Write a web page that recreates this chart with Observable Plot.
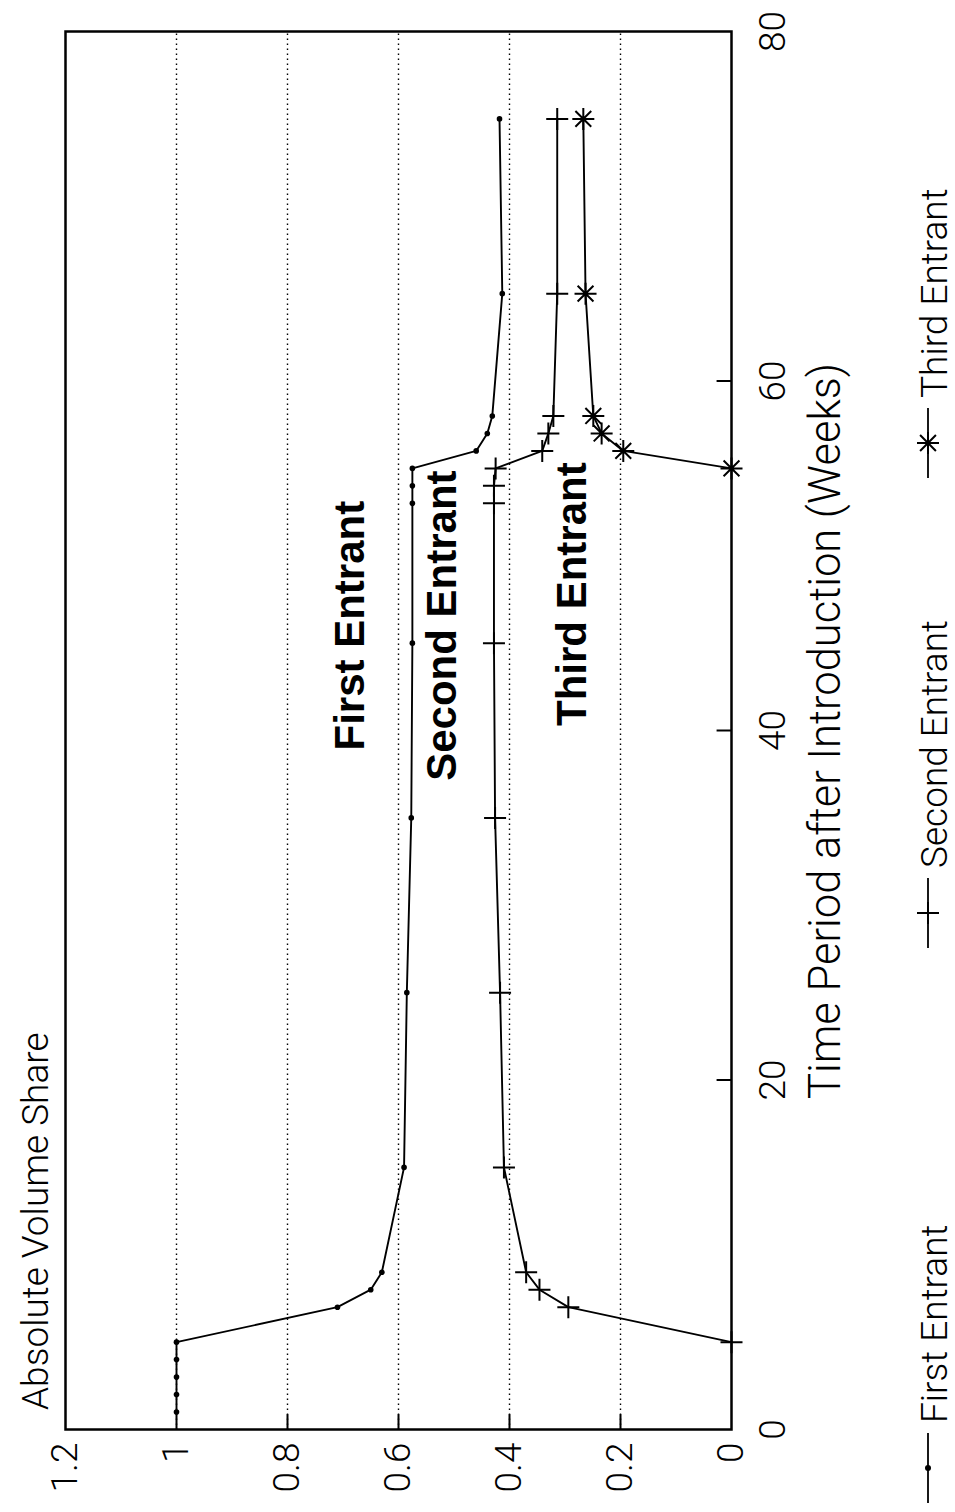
<!DOCTYPE html>
<html>
<head>
<meta charset="utf-8">
<script src="https://cdn.jsdelivr.net/npm/d3@7"></script>
<script src="https://cdn.jsdelivr.net/npm/@observablehq/plot@0.6"></script>
<style>
  html, body { margin: 0; padding: 0; width: 955px; height: 1512px; overflow: hidden; background: #fff; }
  #rot { position: absolute; left: 0; top: 1512px; width: 1512px; height: 955px;
         transform-origin: 0 0; transform: rotate(-90deg);
         font-family: Roboto, "Liberation Sans", sans-serif; font-weight: 300; color: #000; }
  .abs { position: absolute; white-space: nowrap; }
</style>
</head>
<body>
<div id="rot"></div>
<script>
// ---------------- data ----------------
const seriesNames = ["First Entrant", "Second Entrant", "Third Entrant"];

const weeksFirst  = [1, 2, 3, 4, 5, 7, 8, 9, 15, 25, 35, 45, 53, 54, 55, 56, 57, 58, 65, 75];
const shareFirst  = [1, 1, 1, 1, 1, 0.71, 0.65, 0.63, 0.59, 0.585, 0.577, 0.575, 0.575, 0.575, 0.575, 0.46, 0.44, 0.431, 0.413, 0.418];

const weeksSecond = [5, 7, 8, 9, 15, 25, 35, 45, 53, 54, 55, 56, 57, 58, 65, 75];
const shareSecond = [0, 0.294, 0.346, 0.37, 0.41, 0.417, 0.426, 0.428, 0.428, 0.428, 0.425, 0.341, 0.33, 0.321, 0.314, 0.314];

const weeksThird  = [55, 56, 57, 58, 65, 75];
const shareThird  = [0, 0.195, 0.234, 0.249, 0.263, 0.267];

const timeTicks  = [0, 20, 40, 60, 80];
const shareTicks = [0, 0.2, 0.4, 0.6, 0.8, 1, 1.2];
const gridShares = [0.2, 0.4, 0.6, 0.8, 1];

// in-chart labels (data coordinates)
const annotationWeeks  = [46, 46, 47.8];
const annotationShares = [0.686, 0.521, 0.286];

const titleText = "Absolute Volume Share";
const xLabelText = "Time Period after Introduction (Weeks)";

// ---------------- build ----------------
const toRows = (name, ws, ss) => ws.map((w, i) => ({series: name, week: w, share: ss[i]}));
const rowsFirst = toRows(seriesNames[0], weeksFirst, shareFirst);
const rowsSecond = toRows(seriesNames[1], weeksSecond, shareSecond);
const rowsThird = toRows(seriesNames[2], weeksThird, shareThird);
const allRows = [...rowsFirst, ...rowsSecond, ...rowsThird];
const annotations = seriesNames.map((s, i) => ({label: s, week: annotationWeeks[i], share: annotationShares[i]}));

// custom marker symbols
const plusSymbol = {
  draw(ctx, size) {
    const r = Math.sqrt(size / Math.PI);
    ctx.moveTo(-r, 0); ctx.lineTo(r, 0);
    ctx.moveTo(0, -r); ctx.lineTo(0, r);
  }
};
const starSymbol = {
  draw(ctx, size) {
    const r = Math.sqrt(size / Math.PI);
    const d = r * 0.72;
    ctx.moveTo(0, -r); ctx.lineTo(0, r);
    ctx.moveTo(-r, 0); ctx.lineTo(r, 0);
    ctx.moveTo(-d, -d); ctx.lineTo(d, d);
    ctx.moveTo(-d, d); ctx.lineTo(d, -d);
  }
};

const FONT = "Roboto, 'Liberation Sans', sans-serif";

const chart = Plot.plot({
  width: 1512,
  height: 790,
  marginLeft: 82,
  marginRight: 32,
  marginTop: 25,
  marginBottom: 99,
  style: {fontFamily: FONT, fontSize: "37px", fontWeight: 300, color: "#000", background: "transparent", overflow: "visible"},
  x: {domain: [0, 80], ticks: timeTicks, tickSize: 0, tickPadding: 27, label: null, tickFormat: d => String(d)},
  y: {domain: [0, 1.2], ticks: shareTicks, tickSize: 0, tickPadding: 13, label: null, tickFormat: d => String(d)},
  marks: [
    Plot.ruleY(gridShares, {stroke: "#000", strokeWidth: 1.4, strokeDasharray: "1.5,3.5"}),
    Plot.ruleX(timeTicks.slice(1, -1), {x: d => d, y1: 0, y2: 0.026, stroke: "#000", strokeWidth: 2}),
    Plot.ruleY(gridShares, {y: d => d, x1: 0, x2: 0.9, stroke: "#000", strokeWidth: 2}),
    Plot.line(allRows, {x: "week", y: "share", z: "series", stroke: "#000", strokeWidth: 1.9}),
    Plot.dot(rowsFirst, {x: "week", y: "share", r: 2.8, fill: "#000", stroke: "none"}),
    Plot.dot(rowsSecond, {x: "week", y: "share", symbol: plusSymbol, r: 11, fill: "none", stroke: "#000", strokeWidth: 2}),
    Plot.dot(rowsThird, {x: "week", y: "share", symbol: starSymbol, r: 11, fill: "none", stroke: "#000", strokeWidth: 2}),
    Plot.text(annotations, {x: "week", y: "share", text: "label", fontSize: 42, fontWeight: "bold",
      fontFamily: "'Liberation Sans', Arial, sans-serif", fill: "#000", textAnchor: "middle"}),
    Plot.frame({stroke: "#000", strokeWidth: 2.5})
  ]
});

const rot = document.getElementById("rot");

chart.style.position = "absolute";
chart.style.left = "0px";
chart.style.top = "40px";
rot.appendChild(chart);

const title = document.createElement("div");
title.className = "abs";
title.textContent = titleText;
Object.assign(title.style, {left: "102px", top: "17px", fontSize: "37px", lineHeight: "37px"});
rot.appendChild(title);

const xl = document.createElement("div");
xl.className = "abs";
xl.textContent = xLabelText;
Object.assign(xl.style, {left: "82px", width: "1398px", textAlign: "center", top: "804px", fontSize: "43.5px", lineHeight: "43.5px"});
rot.appendChild(xl);

// legend (line + marker + text)
const legendStarts = [7, 562, 1032];
const legendSymbols = ["dot", "plus", "star"];
const ns = "http://www.w3.org/2000/svg";
seriesNames.forEach((name, i) => {
  const sw = document.createElementNS(ns, "svg");
  sw.setAttribute("width", 80); sw.setAttribute("height", 40);
  sw.style.position = "absolute";
  sw.style.left = legendStarts[i] + "px";
  sw.style.top = "908px";
  const ln = document.createElementNS(ns, "line");
  ln.setAttribute("x1", 2); ln.setAttribute("x2", 72); ln.setAttribute("y1", 20); ln.setAttribute("y2", 20);
  ln.setAttribute("stroke", "#000"); ln.setAttribute("stroke-width", 1.8);
  sw.appendChild(ln);
  const p = d3.path();
  if (legendSymbols[i] === "dot") {
    const c = document.createElementNS(ns, "circle");
    c.setAttribute("cx", 37); c.setAttribute("cy", 20); c.setAttribute("r", 3); c.setAttribute("fill", "#000");
    sw.appendChild(c);
  } else {
    (legendSymbols[i] === "plus" ? plusSymbol : starSymbol).draw(p, Math.PI * 11 * 11);
    const g = document.createElementNS(ns, "path");
    g.setAttribute("d", p.toString());
    g.setAttribute("transform", "translate(37,20)");
    g.setAttribute("stroke", "#000"); g.setAttribute("stroke-width", 2); g.setAttribute("fill", "none");
    sw.appendChild(g);
  }
  rot.appendChild(sw);
  const t = document.createElement("div");
  t.className = "abs";
  t.textContent = name;
  Object.assign(t.style, {left: (legendStarts[i] + 82) + "px", top: "916px", fontSize: "37px", lineHeight: "37px"});
  rot.appendChild(t);
});
</script>
</body>
</html>
